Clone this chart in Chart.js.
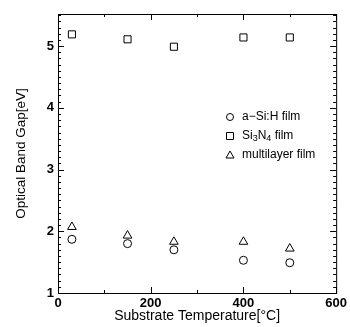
<!DOCTYPE html>
<html>
<head>
<meta charset="utf-8">
<script src="https://cdn.jsdelivr.net/npm/chart.js@4"></script>
<style>
  html, body { margin: 0; padding: 0; background: #fff; }
  #wrap { width: 350px; height: 327px; }
</style>
</head>
<body>
<div id="wrap"><canvas id="bandGapChart" width="350" height="327"></canvas></div>
<script>
const temperatures = [30, 150, 250, 400, 500];
const aSiH = [1.87, 1.80, 1.70, 1.53, 1.49];
const si3n4 = [5.19, 5.11, 4.99, 5.14, 5.14];
const multilayer = [2.07, 1.93, 1.83, 1.83, 1.72];
const xTicks = [0, 200, 400, 600];
const yTicks = [1, 2, 3, 4, 5];

const toPoints = vals => temperatures.map((t, i) => ({ x: t, y: vals[i] }));

// inward ticks, frame and the legend (needs subscripts)
const framePlugin = {
  id: 'frame',
  afterDraw(chart) {
    const { ctx, chartArea: a, scales: { x, y } } = chart;
    ctx.save();
    ctx.strokeStyle = '#000';
    ctx.lineWidth = 1;
    ctx.strokeRect(a.left + 0.5, a.top + 0.5, a.right - a.left, a.bottom - a.top);
    for (let v = 1; v <= 5.5; v += 0.1) {
      const p = Math.round(y.getPixelForValue(v)) + 0.5;
      const major = Math.abs(v - Math.round(v)) < 0.01;
      const len = major ? 6 : 3;
      ctx.beginPath();
      ctx.moveTo(a.left, p); ctx.lineTo(a.left + len, p);
      ctx.moveTo(a.right, p); ctx.lineTo(a.right - len, p);
      ctx.stroke();
    }
    for (let v = 0; v <= 600; v += 100) {
      const p = Math.round(x.getPixelForValue(v)) + 0.5;
      const len = v % 200 === 0 ? 6 : 3;
      ctx.beginPath();
      ctx.moveTo(p, a.bottom); ctx.lineTo(p, a.bottom - len);
      ctx.moveTo(p, a.top); ctx.lineTo(p, a.top + len);
      ctx.stroke();
    }

    // legend
    const items = [
      { style: 'circle', parts: [['a\u2212Si:H film', 0]] },
      { style: 'rect', parts: [['Si', 0], ['3', 1], ['N', 0], ['4', 1], [' film', 0]] },
      { style: 'triangle', parts: [['multilayer film', 0]] }
    ];
    let ly = 117;
    items.forEach(it => {
      ctx.beginPath();
      const mx = 230;
      if (it.style === 'circle') {
        ctx.arc(mx, ly, 3.5, 0, Math.PI * 2);
      } else if (it.style === 'rect') {
        ctx.rect(mx - 3.5, ly - 3.5, 7, 7);
      } else {
        ctx.moveTo(mx, ly - 4); ctx.lineTo(mx + 4, ly + 3); ctx.lineTo(mx - 4, ly + 3); ctx.closePath();
      }
      ctx.stroke();
      let tx = 242;
      ctx.fillStyle = '#000';
      ctx.textBaseline = 'middle';
      it.parts.forEach(([t, sub]) => {
        ctx.font = sub ? '9px "Liberation Sans", Arial' : '12px "Liberation Sans", Arial';
        ctx.fillText(t, tx, sub ? ly + 3 : ly);
        tx += ctx.measureText(t).width;
      });
      ly += 19;
    });
    ctx.restore();
  }
};

const markerBase = {
  borderColor: '#000',
  backgroundColor: 'rgba(0,0,0,0)',
  borderWidth: 1,
  pointRadius: 4.5,
  showLine: false
};

new Chart(document.getElementById('bandGapChart').getContext('2d'), {
  type: 'scatter',
  data: {
    datasets: [
      { ...markerBase, label: 'a-Si:H film', data: toPoints(aSiH), pointStyle: 'circle', pointRadius: 4 },
      { ...markerBase, label: 'Si3N4 film', data: toPoints(si3n4), pointStyle: 'rect', pointRadius: 5 },
      { ...markerBase, label: 'multilayer film', data: toPoints(multilayer), pointStyle: 'triangle', pointRadius: 5 }
    ]
  },
  options: {
    responsive: false,
    animation: false,
    events: [],
    layout: { padding: { left: 13, right: 10, top: 14, bottom: 0 } },
    plugins: { legend: { display: false }, tooltip: { enabled: false } },
    scales: {
      x: {
        type: 'linear',
        min: 0, max: 600,
        grid: { display: false, drawTicks: false },
        border: { display: false },
        afterBuildTicks: s => { s.ticks = xTicks.map(v => ({ value: v })); },
        afterFit: s => { s.height = 34; },
        ticks: { color: '#000', padding: 3, maxRotation: 0, font: { family: '"Liberation Sans", Arial', size: 13, weight: 'bold' } },
        title: { display: true, text: 'Substrate Temperature[\u00b0C]', color: '#000', padding: { top: 0, bottom: 2 }, font: { family: '"Liberation Sans", Arial', size: 14 } }
      },
      y: {
        type: 'linear',
        min: 1, max: 5.52,
        grid: { display: false, drawTicks: false },
        border: { display: false },
        afterBuildTicks: s => { s.ticks = yTicks.map(v => ({ value: v })); },
        afterFit: s => { s.width = 45; },
        ticks: { color: '#000', padding: 4, font: { family: '"Liberation Sans", Arial', size: 13, weight: 'bold' } },
        title: { display: true, text: 'Optical Band Gap[eV]', color: '#000', padding: { top: 0, bottom: 0 }, font: { family: '"Liberation Sans", Arial', size: 13.5 } }
      }
    }
  },
  plugins: [framePlugin]
});
</script>
</body>
</html>
